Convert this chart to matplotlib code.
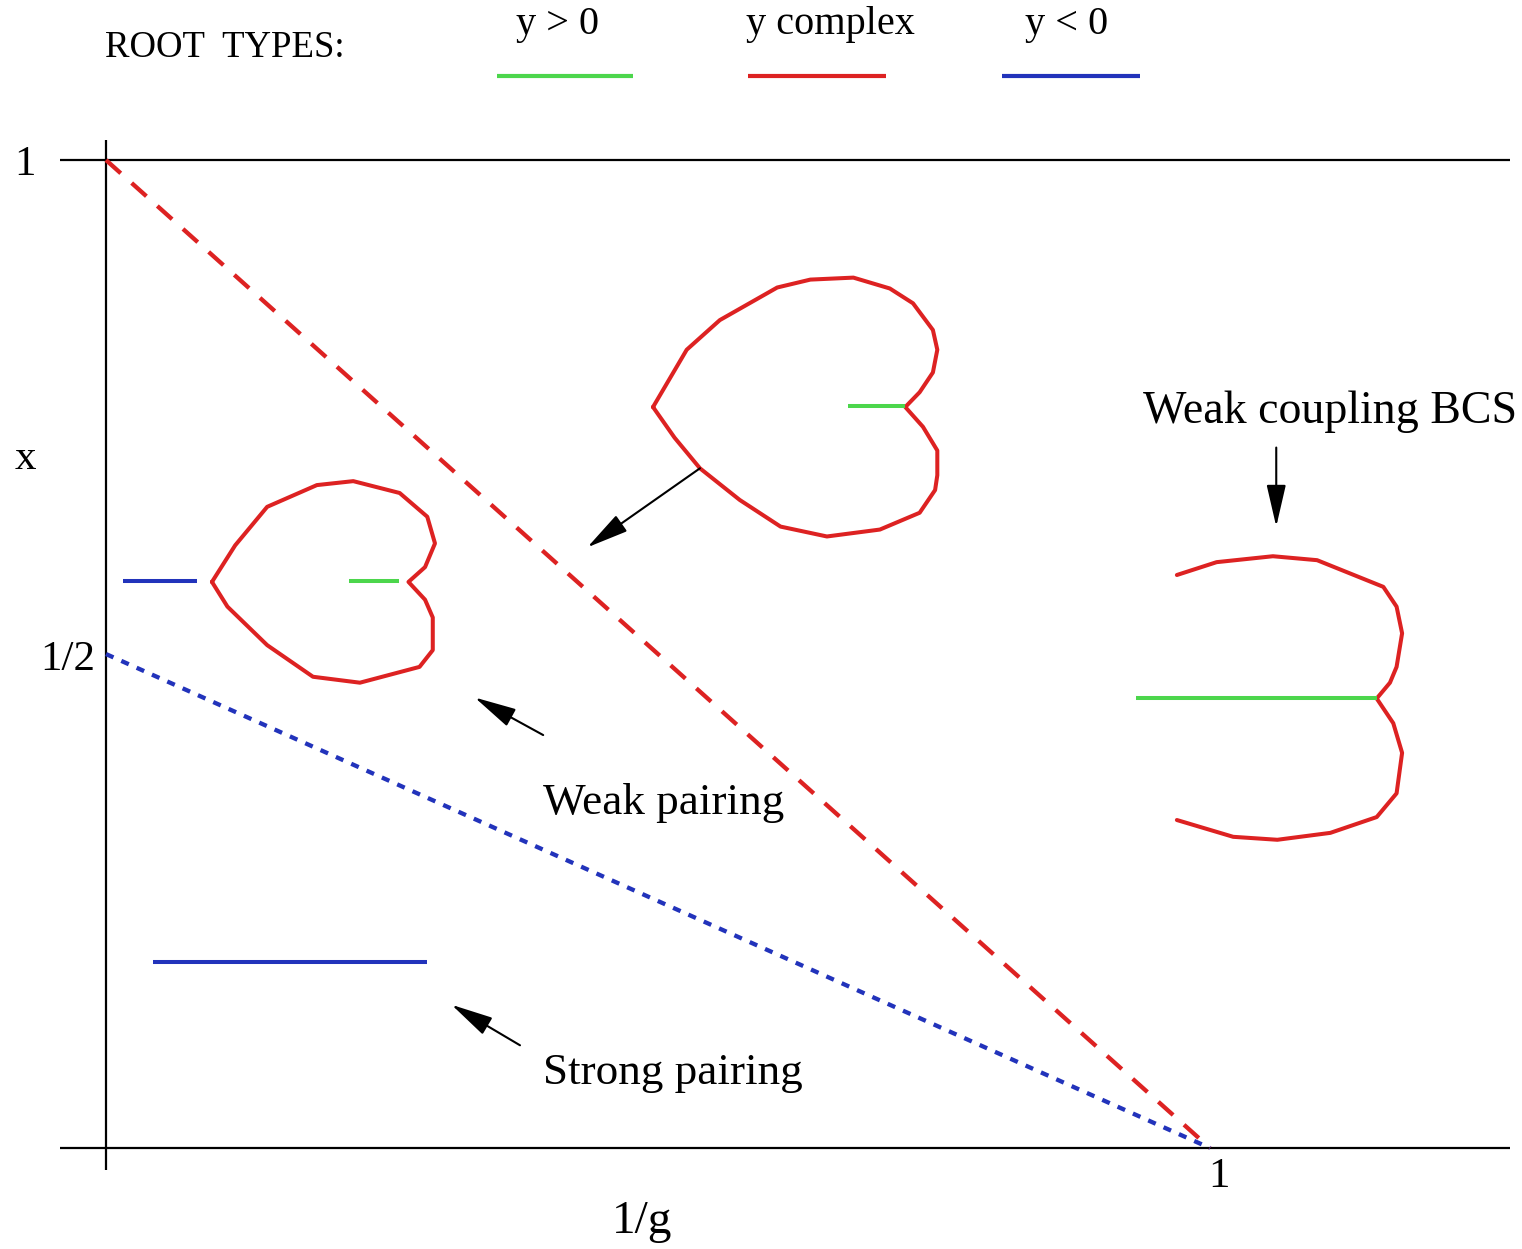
import numpy as np
import matplotlib
matplotlib.use("Agg")
import matplotlib.pyplot as plt

plt.rcParams["font.family"] = ["Liberation Serif", "DejaVu Serif"]
plt.rcParams["lines.solid_joinstyle"] = "round"
plt.rcParams["lines.solid_capstyle"] = "round"

# Colours for the three root types
GREEN = "#4cd64c"
RED = "#dd2222"
BLUE = "#2233bb"

# Phase boundaries in the (1/g, x) plane
red_boundary_g = [0.0, 1.0]
red_boundary_x = [1.0, 0.0]
blue_boundary_g = [0.0, 1.0]
blue_boundary_x = [0.5, 0.0]

# Root pattern in the weak pairing region near the red line (closed curve)
big_heart_g = [0.4955, 0.526, 0.556, 0.608, 0.638, 0.677, 0.710, 0.731, 0.749, 0.753,
               0.749, 0.737, 0.724, 0.740, 0.753, 0.753, 0.751, 0.737, 0.701, 0.653,
               0.611, 0.574, 0.538, 0.515, 0.4955]
big_heart_x = [0.750, 0.808, 0.838, 0.871, 0.879, 0.881, 0.870, 0.855, 0.828, 0.808,
               0.785, 0.765, 0.750, 0.730, 0.706, 0.681, 0.666, 0.643, 0.626, 0.619,
               0.629, 0.656, 0.688, 0.719, 0.750]
big_green_g = [0.672, 0.724]
big_green_x = [0.751, 0.751]

# Root pattern in the weak pairing region near the blue line
small_heart_g = [0.096, 0.117, 0.146, 0.191, 0.224, 0.266, 0.291, 0.298, 0.289, 0.274,
                 0.289, 0.296, 0.296, 0.284, 0.230, 0.1875, 0.146, 0.110, 0.096]
small_heart_x = [0.573, 0.610, 0.649, 0.671, 0.675, 0.663, 0.639, 0.612, 0.588, 0.573,
                 0.555, 0.537, 0.504, 0.487, 0.471, 0.477, 0.509, 0.548, 0.573]
small_blue_g = [0.0154, 0.0824]
small_blue_x = [0.574, 0.574]
small_green_g = [0.220, 0.265]
small_green_x = [0.574, 0.574]

# Weak coupling BCS pattern (two open arcs meeting at the cusp)
bcs_arc_g = [0.970, 1.006, 1.057, 1.097, 1.157, 1.169, 1.174, 1.169, 1.163, 1.151,
             1.166, 1.174, 1.169, 1.151, 1.109, 1.061, 1.021, 0.970]
bcs_arc_x = [0.580, 0.593, 0.599, 0.595, 0.568, 0.548, 0.521, 0.487, 0.471, 0.455,
             0.430, 0.400, 0.359, 0.335, 0.319, 0.312, 0.315, 0.332]
bcs_green_g = [0.933, 1.151]
bcs_green_x = [0.455, 0.455]

# Strong pairing: all roots negative
strong_blue_g = [0.0426, 0.291]
strong_blue_x = [0.188, 0.188]

# Arrows (tail, head) in the same coordinates
arrows = [
    ((0.538, 0.688), (0.436, 0.608)),
    ((0.396, 0.418), (0.334, 0.456)),
    ((0.375, 0.104), (0.313, 0.145)),
    ((1.060, 0.709), (1.060, 0.629)),
]

legend_labels = ["y > 0", "y complex", "y < 0"]
legend_colors = [GREEN, RED, BLUE]
legend_g = [(0.354, 0.477), (0.5815, 0.7065), (0.8116, 0.9366)]
legend_text_g = [0.409, 0.656, 0.870]

fig = plt.figure(figsize=(15.22, 12.49), dpi=100)
ax = fig.add_axes([0, 0, 1, 1])
ax.set_xlim(-0.096, 1.2826)
ax.set_ylim(-0.1022, 1.162)
ax.axis("off")

# frame: x axis, top line at x = 1, and vertical axis
ax.plot([-0.042, 1.272], [0, 0], color="black", lw=1.6, solid_capstyle="butt")
ax.plot([-0.042, 1.272], [1, 1], color="black", lw=1.6, solid_capstyle="butt")
ax.plot([0, 0], [-0.022, 1.020], color="black", lw=1.6, solid_capstyle="butt")

ax.plot(red_boundary_g, red_boundary_x, color=RED, lw=3.1, dashes=(4.6, 3.4),
        dash_capstyle="butt")
ax.plot(blue_boundary_g, blue_boundary_x, color=BLUE, lw=3.1, dashes=(1.9, 2.0),
        dash_capstyle="butt")

ax.plot(big_heart_g, big_heart_x, color=RED, lw=2.9)
ax.plot(big_green_g, big_green_x, color=GREEN, lw=2.9, solid_capstyle="butt")
ax.plot(small_heart_g, small_heart_x, color=RED, lw=2.9)
ax.plot(small_blue_g, small_blue_x, color=BLUE, lw=2.9, solid_capstyle="butt")
ax.plot(small_green_g, small_green_x, color=GREEN, lw=2.9, solid_capstyle="butt")
ax.plot(bcs_arc_g, bcs_arc_x, color=RED, lw=2.9)
ax.plot(bcs_green_g, bcs_green_x, color=GREEN, lw=2.9, solid_capstyle="butt")
ax.plot(strong_blue_g, strong_blue_x, color=BLUE, lw=2.9, solid_capstyle="butt")

for tail, head in arrows:
    ax.annotate("", xy=head, xytext=tail,
                arrowprops=dict(arrowstyle="-|>,head_length=1.3,head_width=0.3",
                                color="black", lw=1.5, mutation_scale=20,
                                shrinkA=0, shrinkB=0))

# legend row at the top
ax.text(-0.001, 1.114, "ROOT  TYPES:", fontsize=26.5, ha="left", va="center")
for lab, col, (g0, g1), gt in zip(legend_labels, legend_colors, legend_g, legend_text_g):
    ax.plot([g0, g1], [1.085, 1.085], color=col, lw=3, solid_capstyle="butt")
    ax.text(gt, 1.137, lab, fontsize=29, ha="center", va="center")

# axis labels and ticks
ax.text(-0.073, 0.995, "1", fontsize=31, ha="center", va="center")
ax.text(-0.073, 0.698, "x", fontsize=31, ha="center", va="center")
ax.text(-0.010, 0.494, "1/2", fontsize=31, ha="right", va="center")
ax.text(1.008, -0.029, "1", fontsize=31, ha="center", va="center")
ax.text(0.486, -0.075, "1/g", fontsize=34, ha="center", va="center")

# region annotations
ax.text(0.396, 0.349, "Weak pairing", fontsize=32.5, ha="left", va="center")
ax.text(0.396, 0.076, "Strong pairing", fontsize=32.5, ha="left", va="center")
ax.text(0.939, 0.745, "Weak coupling BCS", fontsize=33, ha="left", va="center")

fig.savefig("out.png", dpi=100)
